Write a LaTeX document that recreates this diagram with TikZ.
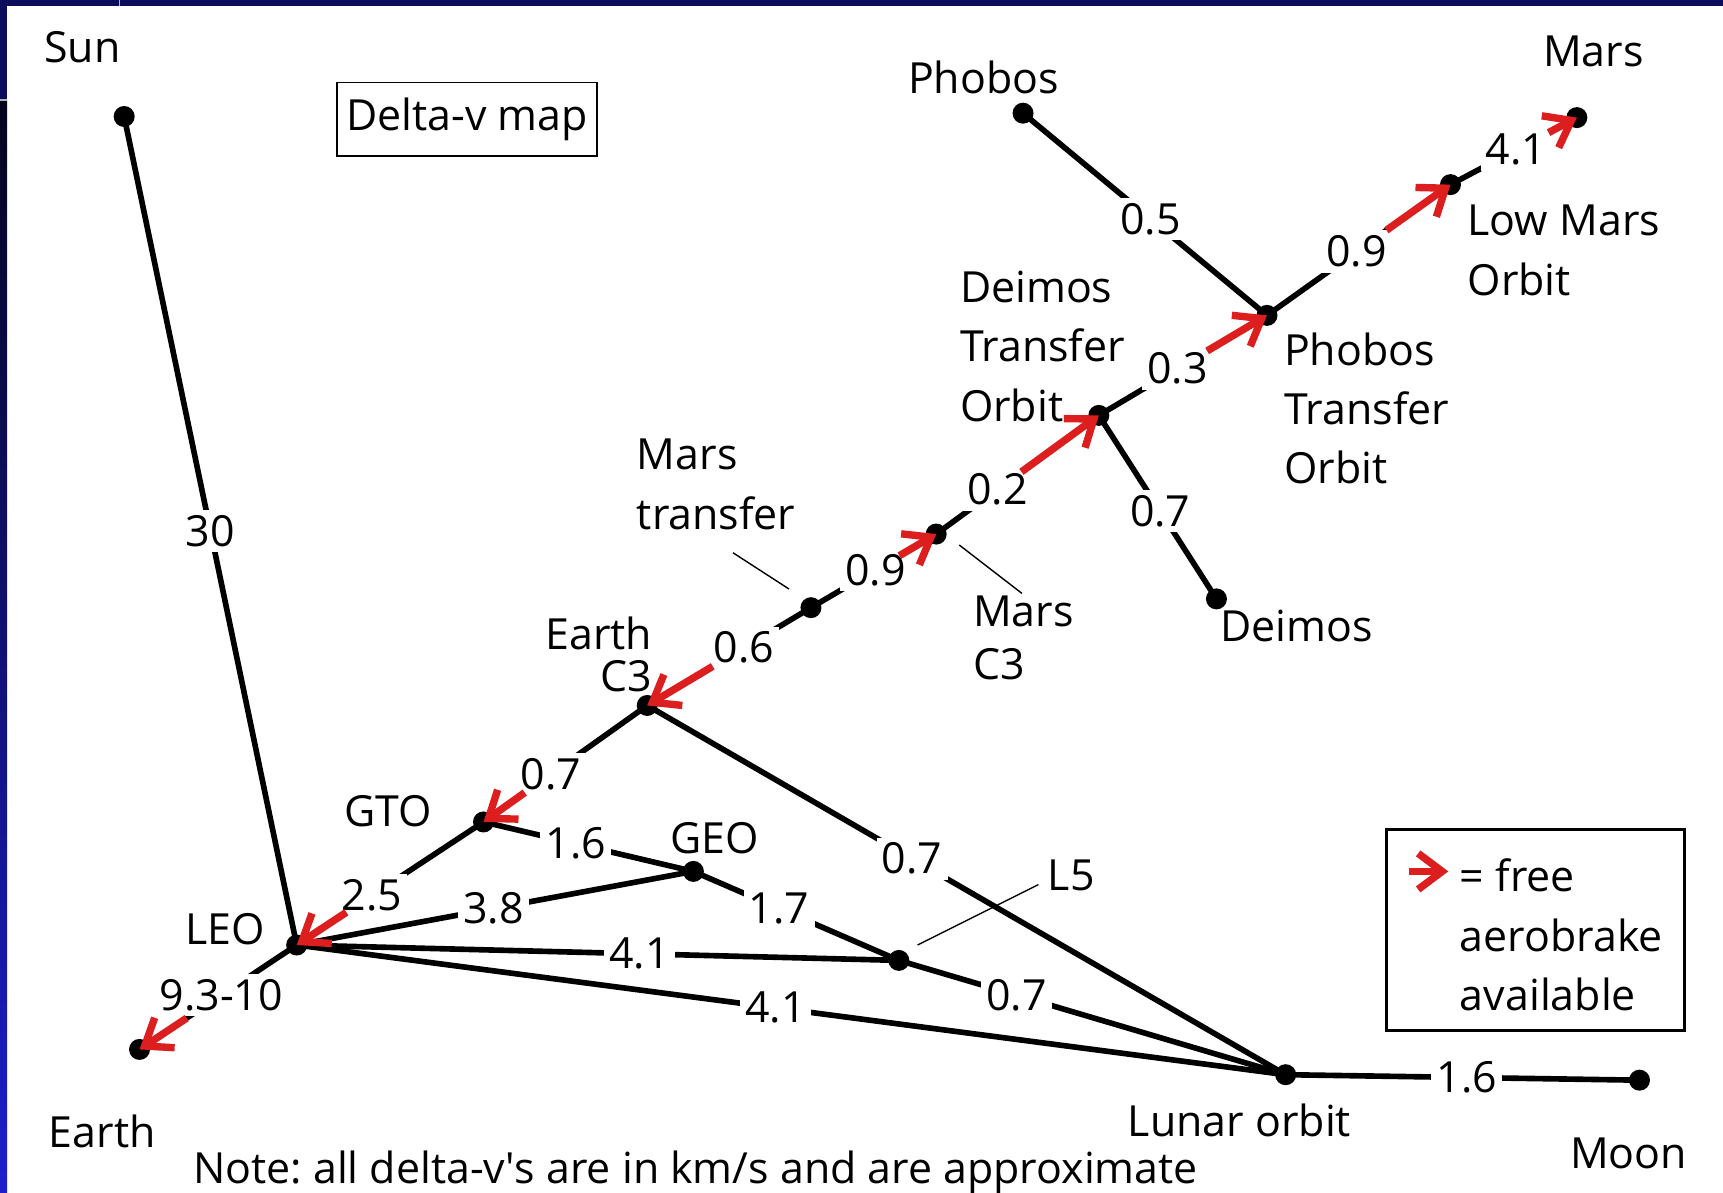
\documentclass[tikz,border=0pt]{standalone}
\usepackage{fontspec}
\setmainfont{Open Sans}
\usetikzlibrary{arrows.meta,calc}
\definecolor{aero}{RGB}{220,30,30}
\definecolor{framenavy}{RGB}{12,12,92}
\definecolor{framedark}{RGB}{4,4,28}
\definecolor{frameblue}{RGB}{30,30,205}
\newcommand\dvfont{\fontsize{12.2}{16.9}\selectfont}
\frenchspacing
\begin{document}
\begin{tikzpicture}[x=0.010989cm,y=-0.010989cm,
  dot/.style={circle,fill=black,inner sep=0pt,minimum size=0.21cm},
  edge/.style={line width=1.6pt},
  lbl/.style={fill=white,inner sep=1.5pt,font=\dvfont},
  txt/.style={inner sep=0pt,font=\dvfont},
  aerobrake/.style={draw=aero,line width=2.1pt,-{Straight Barb[length=2.4mm,width=3.6mm]}},
  leader/.style={line width=0.4pt}]
\fill[white] (0,0) rectangle (1568,1085);
\useasboundingbox (0,0) rectangle (1568,1085);
% frame
\fill[framenavy] (0,0) rectangle (1568,5.5);
\fill[framenavy] (0,0) rectangle (6.4,91);
\shade[top color=framedark,bottom color=frameblue] (0,91) rectangle (6.4,1085);
\draw[gray!60,line width=0.4pt] (109,0)--(109,5.5);
\draw[gray!60,line width=0.4pt] (0,91)--(6.4,91);

% dots
\node[dot] (sun) at (113,106) {};
\node[dot] (leo) at (270,860) {};
\node[dot] (earth) at (127,955) {};
\node[dot] (gto) at (440,748) {};
\node[dot] (geo) at (631,793) {};
\node[dot] (ec3) at (589,642) {};
\node[dot] (l5) at (818,874) {};
\node[dot] (lunar) at (1170,978) {};
\node[dot] (moon) at (1492,983) {};
\node[dot] (mtr) at (738,553) {};
\node[dot] (mc3) at (852,486) {};
\node[dot] (dto) at (1000,378) {};
\node[dot] (deimos) at (1107,545) {};
\node[dot] (pto) at (1153,287) {};
\node[dot] (phobos) at (931,103) {};
\node[dot] (lmo) at (1320,168) {};
\node[dot] (mars) at (1435,107) {};

% Earth-side edges
\draw[edge] (sun.center) -- node[lbl,pos=.5]{30} (leo.center);
\draw[edge] (leo.center) -- node[lbl,pos=.48]{9.3-10} (earth.center);
\draw[edge] (gto.center) -- node[lbl,pos=.598]{2.5} (leo.center);
\draw[edge] (ec3.center) -- node[lbl,pos=.587]{0.7} (gto.center);
\draw[edge] (gto.center) -- node[lbl,pos=.44]{1.6} (geo.center);
\draw[edge] (leo.center) -- node[lbl,pos=.496]{3.8} (geo.center);
\draw[edge] (geo.center) -- node[lbl,pos=.417]{1.7} (l5.center);
\draw[edge] (leo.center) -- node[lbl,pos=.569]{4.1} (l5.center);
\draw[edge] (l5.center) -- node[lbl,pos=.304]{0.7} (lunar.center);
\draw[edge] (leo.center) -- node[lbl,pos=.484]{4.1} (lunar.center);
\draw[edge] (ec3.center) -- node[lbl,pos=.415]{0.7} (lunar.center);
\draw[edge] (lunar.center) -- node[lbl,pos=.512]{1.6} (moon.center);

% Mars-side edges
\draw[edge] (ec3.center) -- node[lbl,pos=.591]{0.6} (mtr.center);
\draw[edge] (mtr.center) -- node[lbl,pos=.515]{0.9} (mc3.center);
\draw[edge] (mc3.center) -- node[lbl,pos=.376]{0.2} (dto.center);
\draw[edge] (dto.center) -- node[lbl,pos=.467]{0.3} (pto.center);
\draw[edge] (pto.center) -- node[lbl,pos=.488]{0.9} (lmo.center);
\draw[edge] (lmo.center) -- node[lbl,pos=.52]{4.1} (mars.center);
\draw[edge] (phobos.center) -- node[lbl,pos=.523]{0.5} (pto.center);
\draw[edge] (dto.center) -- node[lbl,pos=.522]{0.7} (deimos.center);

% free aerobrake arrows
\draw[aerobrake] ($(leo.center)!.70!(earth.center)$) -- (earth.center);
\draw[aerobrake] ($(gto.center)!.734!(leo.center)$) -- (leo.center);
\draw[aerobrake] ($(ec3.center)!.748!(gto.center)$) -- (gto.center);
\draw[aerobrake] ($(mtr.center)!.60!(ec3.center)$) -- (ec3.center);
\draw[aerobrake] ($(mtr.center)!.706!(mc3.center)$) -- (mc3.center);
\draw[aerobrake] ($(mc3.center)!.524!(dto.center)$) -- (dto.center);
\draw[aerobrake] ($(dto.center)!.644!(pto.center)$) -- (pto.center);
\draw[aerobrake] ($(pto.center)!.651!(lmo.center)$) -- (lmo.center);
\draw[aerobrake] ($(lmo.center)!.776!(mars.center)$) -- (mars.center);

% leader lines
\coordinate (mtrA) at (667,503); \coordinate (mtrB) at (718,536);
\draw[leader] (mtrA) -- (mtrB);
\coordinate (mcA) at (873,496); \coordinate (mcB) at (930,540);
\draw[leader] (mcA) -- (mcB);
\coordinate (lfA) at (835,860); \coordinate (lfB) at (945,805);
\draw[leader] (lfA) -- (lfB);

% labels
\node[txt] (sunlbl) at (75,43) {Sun};
\node[txt] (phoboslbl) at (895,70) {Phobos};
\node[txt] (marslbl) at (1450,47) {Mars};
\node[txt,anchor=north west,align=left] (lmolbl) at (1335,186) {Low Mars\\Orbit};
\node[txt,anchor=north west,align=left] (dtolbl) at (873,246) {Deimos\\Transfer\\Orbit};
\node[txt,anchor=north west,align=left] (ptolbl) at (1168,302) {Phobos\\Transfer\\Orbit};
\node[txt,anchor=north west,align=left] (mtrlbl) at (579,399) {Mars\\transfer};
\node[txt,anchor=north west,align=left] (mc3lbl) at (885,542) {Mars\\[-2pt]C3};
\node[txt,anchor=north east,align=right] (ec3lbl) at (594,561) {Earth\\[-5pt]C3};
\node[txt] (deimoslbl) at (1180,570) {Deimos};
\node[txt] (leolbl) at (205,846) {LEO};
\node[txt] (gtolbl) at (353,738) {GTO};
\node[txt] (geolbl) at (650,763) {GEO};
\node[txt] (l5lbl) at (975,797) {L5};
\node[txt] (earthlbl) at (93,1030) {Earth};
\node[txt] (lunarlbl) at (1128,1020) {Lunar orbit};
\node[txt] (moonlbl) at (1482,1050) {Moon};
\node[txt,anchor=base] (note) at (633,1077) {Note: all delta-v\textquotesingle s are in km/s and are approximate};

% title box
\node[draw,line width=0.5pt,minimum width=2.593cm,minimum height=0.736cm,inner sep=0pt,font=\dvfont] (title) at (425,108.5) {Delta-v map};

% legend
\node[draw,line width=0.75pt,minimum width=2.978cm,minimum height=2.011cm,inner sep=0pt] (legend) at (1397.5,846.5) {};
\coordinate (legA) at (1282,793); \coordinate (legB) at (1318,793);
\draw[aerobrake] (legA) -- (legB);
\node[txt,anchor=north west,align=left] (legtxt) at (1328,781) {= free\\aerobrake\\available};
\end{tikzpicture}
\end{document}
